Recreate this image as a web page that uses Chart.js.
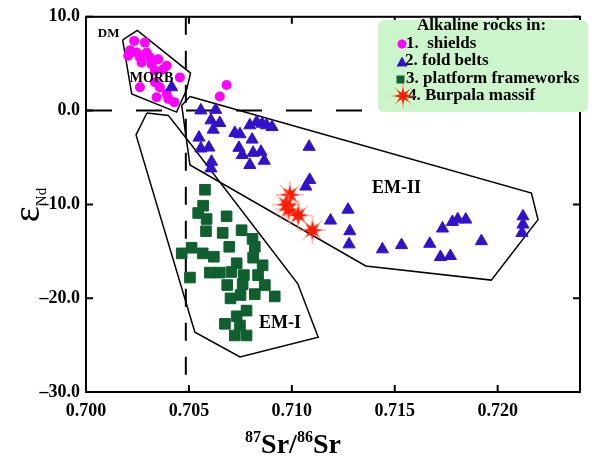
<!DOCTYPE html>
<html>
<head>
<meta charset="utf-8">
<script src="https://cdn.jsdelivr.net/npm/chart.js@4/dist/chart.umd.min.js"></script>
<style>
body{margin:0;background:#fff}
#wrap{position:relative;width:596px;height:468px;font-family:"Liberation Serif","Times New Roman",serif;font-weight:bold;color:#000}
#myChart{position:absolute;left:0;top:0}
.xt{position:absolute;left:193px;width:200px;top:430px;text-align:center;font-size:28px;line-height:28px}
.xt span{font-size:16px;position:relative;top:-11px}
.yt{position:absolute;left:-14px;top:185px;width:80px;height:40px;line-height:40px;text-align:center;transform:rotate(-90deg);font-weight:normal;font-size:38px}
.yt span{font-size:15px;position:relative;top:7px}
.leg{position:absolute;left:378px;top:20px;width:210px;height:92px;background:#ccf5cc;border-radius:6px}
.ll{position:absolute;font-size:17px;line-height:17px;white-space:nowrap}
.mk{position:absolute}
</style>
</head>
<body>
<div id="wrap">
<canvas id="myChart" width="596" height="468"></canvas>
<div class="xt"><span>87</span>Sr/<span>86</span>Sr</div>
<div class="yt">&#949;<span>Nd</span></div>
<div class="leg"></div>
<div class="ll" style="left:417px;top:16px">Alkaline rocks in:</div>
<div class="ll" style="left:406px;top:34px">1.&nbsp; shields</div>
<div class="ll" style="left:405px;top:51px">2. fold belts</div>
<div class="ll" style="left:406px;top:69px">3. platform frameworks</div>
<div class="ll" style="left:408px;top:86px">4. Burpala massif</div>
<svg class="mk" style="left:397px;top:39px" width="10" height="10"><circle cx="5" cy="5" r="4.5" fill="#ff00ff"/></svg>
<svg class="mk" style="left:396px;top:56px" width="12" height="11"><polygon points="6,0.5 11.5,10.5 0.5,10.5" fill="#3311cc"/></svg>
<svg class="mk" style="left:396px;top:75px" width="9" height="9"><rect x="0.5" y="0.5" width="8" height="8" fill="#10602f"/></svg>
<canvas class="mk" id="legStar" width="24" height="24" style="left:391px;top:84px"></canvas>
</div>
<script>
// tick labels
var xTicks = [0.700, 0.705, 0.710, 0.715, 0.720];
var yTicks = [10, 0, -10, -20, -30];

// 1. shields
var shieldsX = [0.70234,0.70286,0.70214,0.70246,0.70295,0.70262,0.70311,0.70351,0.70270,0.70319,0.70392,0.70375,0.70335,0.70456,0.70262,0.70335,0.70359,0.70392,0.70343,0.70400,0.70429,0.70205,0.70683,0.70650];
var shieldsY = [7.43,7.25,6.43,6.19,6.19,5.66,5.66,5.48,5.13,4.95,4.78,4.42,4.25,3.54,2.49,3.02,2.49,1.78,1.43,1.25,0.90,5.84,2.73,1.50];

// 2. fold belts
var foldX = [0.70558,0.70630,0.70607,0.70650,0.70618,0.70549,0.70558,0.70597,0.70610,0.70607,0.70723,0.70748,0.70796,0.70829,0.70856,0.70877,0.70904,0.70807,0.70743,0.70759,0.70812,0.70850,0.70866,0.70796,0.71084,0.71087,0.71068,0.71273,0.71188,0.71282,0.71278,0.71440,0.71533,0.71670,0.71732,0.71780,0.71806,0.71845,0.71722,0.71770,0.71921,0.72123,0.72123,0.72118,0.70416];
var foldY = [0.02,0.08,-1.04,-1.32,-2.03,-2.88,-4.04,-3.94,-5.45,-6.16,-2.38,-2.52,-1.57,-1.22,-1.40,-1.57,-1.75,-3.09,-3.97,-4.74,-4.50,-4.39,-5.34,-5.80,-3.86,-7.39,-8.10,-10.56,-11.72,-12.86,-14.26,-14.79,-14.34,-14.20,-12.57,-11.87,-11.59,-11.62,-15.61,-15.50,-13.92,-11.27,-12.15,-13.04,2.49];

// 3. platform frameworks
var platX = [0.70578,0.70569,0.70545,0.70586,0.70683,0.70583,0.70664,0.70756,0.70809,0.70696,0.70820,0.70465,0.70513,0.70567,0.70621,0.70812,0.70732,0.70858,0.70602,0.70650,0.70707,0.70767,0.70836,0.70505,0.70686,0.70761,0.70869,0.70751,0.70820,0.70917,0.70702,0.70780,0.70732,0.70675,0.70748,0.70723,0.70780];
var platY = [-8.44,-10.14,-10.92,-11.56,-11.27,-12.86,-13.04,-12.75,-13.67,-14.52,-14.52,-15.22,-14.62,-15.22,-15.58,-15.68,-16.27,-16.49,-17.27,-17.27,-17.20,-17.54,-17.54,-17.80,-18.60,-18.50,-18.60,-19.66,-19.56,-19.81,-20.02,-21.32,-21.93,-22.73,-22.91,-23.97,-23.97];

// 4. Burpala massif
var burX = [0.70990,0.70974,0.70985,0.71031,0.71100];
var burY = [-8.97,-10.03,-10.54,-11.16,-12.75];

// source fields (DM-MORB, EM-I, EM-II)
var dmX = [0.70178,0.70249,0.70508,0.70489,0.70440,0.70222,0.70178];
var dmY = [7.53,8.55,4.00,2.24,-0.16,1.78,7.53];
var em1X = [0.70296,0.70400,0.70490,0.71029,0.71128,0.70748,0.70529,0.70243,0.70296];
var em1Y = [-0.26,-0.51,-3.02,-18.47,-24.15,-26.26,-23.62,-2.59,-0.26];
var em2X = [0.70505,0.72164,0.72196,0.71969,0.71359,0.70505,0.70465,0.70505];
var em2Y = [1.50,-8.80,-11.62,-18.07,-16.56,-5.80,0.55,1.50];

// reference lines: bulk earth
var bulkSr = 0.70485;
var bulkNd = 0;

function pts(xs, ys) {
	return xs.map(function (x, i) { return {x: x, y: ys[i]}; });
}

function drawStar(c) {
	var g = c.getContext('2d'), s = c.width, m = s / 2;
	g.strokeStyle = '#ff8a6a';
	g.lineWidth = 1;
	g.beginPath();
	for (var k = 0; k < 8; k++) {
		var a = k * Math.PI / 4;
		g.moveTo(m, m);
		g.lineTo(m + Math.cos(a) * m, m + Math.sin(a) * m);
	}
	g.stroke();
	g.fillStyle = '#ff1a00';
	g.beginPath();
	for (var i = 0; i < 16; i++) {
		var r = i % 2 ? s * 0.15 : s * 0.37;
		var b = -Math.PI / 2 + i * Math.PI / 8;
		g.lineTo(m + Math.cos(b) * r, m + Math.sin(b) * r);
	}
	g.closePath();
	g.fill();
	return c;
}

var starImg = document.createElement('canvas');
starImg.width = 28; starImg.height = 28;
drawStar(starImg);
drawStar(document.getElementById('legStar'));

var notes = [
	{text: 'DM', x: 0.70110, y: 8.17, size: 13},
	{text: 'MORB', x: 0.70318, y: 3.44, size: 14},
	{text: 'EM-II', x: 0.71508, y: -8.31, size: 18},
	{text: 'EM-I', x: 0.70942, y: -22.7, size: 18}
];

var frame = {
	id: 'frame',
	afterDatasetsDraw: function (chart) {
		var ctx = chart.ctx, a = chart.chartArea, x = chart.scales.x, y = chart.scales.y;
		ctx.save();
		ctx.strokeStyle = '#000';
		ctx.lineWidth = 2;
		ctx.strokeRect(a.left, a.top, a.right - a.left, a.bottom - a.top);
		ctx.beginPath();
		xTicks.forEach(function (v) {
			var px = x.getPixelForValue(v);
			ctx.moveTo(px, a.bottom); ctx.lineTo(px, a.bottom - 7);
			ctx.moveTo(px, a.top); ctx.lineTo(px, a.top + 7);
		});
		yTicks.forEach(function (v) {
			var py = y.getPixelForValue(v);
			ctx.moveTo(a.left, py); ctx.lineTo(a.left + 7, py);
			ctx.moveTo(a.right, py); ctx.lineTo(a.right - 7, py);
		});
		ctx.stroke();
		ctx.fillStyle = '#000';
		ctx.textAlign = 'center';
		ctx.textBaseline = 'middle';
		notes.forEach(function (n) {
			ctx.font = 'bold ' + n.size + 'px "Liberation Serif"';
			ctx.fillText(n.text, x.getPixelForValue(n.x), y.getPixelForValue(n.y));
		});
		ctx.restore();
	}
};

function outline(xs, ys) {
	return {data: pts(xs, ys), showLine: true, borderColor: '#000', borderWidth: 1.5, pointRadius: 0, pointHoverRadius: 0, fill: false, order: 5};
}

var tickFont = {family: '"Liberation Serif"', size: 18, weight: 'bold'};

var ctx = document.getElementById("myChart").getContext('2d');
var myChart = new Chart(ctx, {
	type: 'scatter',
	data: {
		datasets: [
			{label: '4. Burpala massif', data: pts(burX, burY), pointStyle: starImg, pointRadius: 10, order: 1},
			{label: '2. fold belts', data: pts(foldX, foldY), pointStyle: 'triangle', pointRadius: 7, backgroundColor: '#3311cc', borderColor: '#3311cc', borderWidth: 1, order: 2},
			{label: '3. platform frameworks', data: pts(platX, platY), pointStyle: 'rect', pointRadius: 7.5, backgroundColor: '#10602f', borderColor: '#10602f', borderWidth: 1, order: 3},
			{label: '1. shields', data: pts(shieldsX, shieldsY), pointStyle: 'circle', pointRadius: 5, backgroundColor: '#ff00ff', borderColor: '#ff00ff', borderWidth: 0, order: 4},
			outline(dmX, dmY),
			outline(em1X, em1Y),
			outline(em2X, em2Y),
			{data: [{x: 0.700, y: bulkNd}, {x: 0.7232, y: bulkNd}], showLine: true, borderColor: '#000', borderWidth: 2, borderDash: [26, 24], pointRadius: 0, order: 6},
			{data: [{x: bulkSr, y: 10}, {x: bulkSr, y: -30}], showLine: true, borderColor: '#000', borderWidth: 2, borderDash: [18, 16], pointRadius: 0, order: 6}
		]
	},
	options: {
		responsive: false,
		animation: false,
		layout: {padding: {top: 14, right: 16, left: 0, bottom: 0}},
		plugins: {legend: {display: false}, tooltip: {enabled: false}},
		scales: {
			x: {
				type: 'linear', min: 0.700, max: 0.724,
				afterBuildTicks: function (s) { s.ticks = xTicks.map(function (v) { return {value: v}; }); },
				afterFit: function (s) { s.height = 76; },
				grid: {display: false, drawTicks: false},
				border: {display: false},
				ticks: {font: tickFont, color: '#000', padding: 9, maxRotation: 0, callback: function (v) { return v.toFixed(3); }}
			},
			y: {
				type: 'linear', min: -30, max: 10,
				afterBuildTicks: function (s) { s.ticks = yTicks.map(function (v) { return {value: v}; }); },
				afterFit: function (s) { s.width = 86; },
				grid: {display: false, drawTicks: false},
				border: {display: false},
				ticks: {font: tickFont, color: '#000', padding: 6, callback: function (v) { return v < 0 ? '\u2013' + Math.abs(v).toFixed(1) : v.toFixed(1); }}
			}
		}
	},
	plugins: [frame]
});
</script>
</body>
</html>
